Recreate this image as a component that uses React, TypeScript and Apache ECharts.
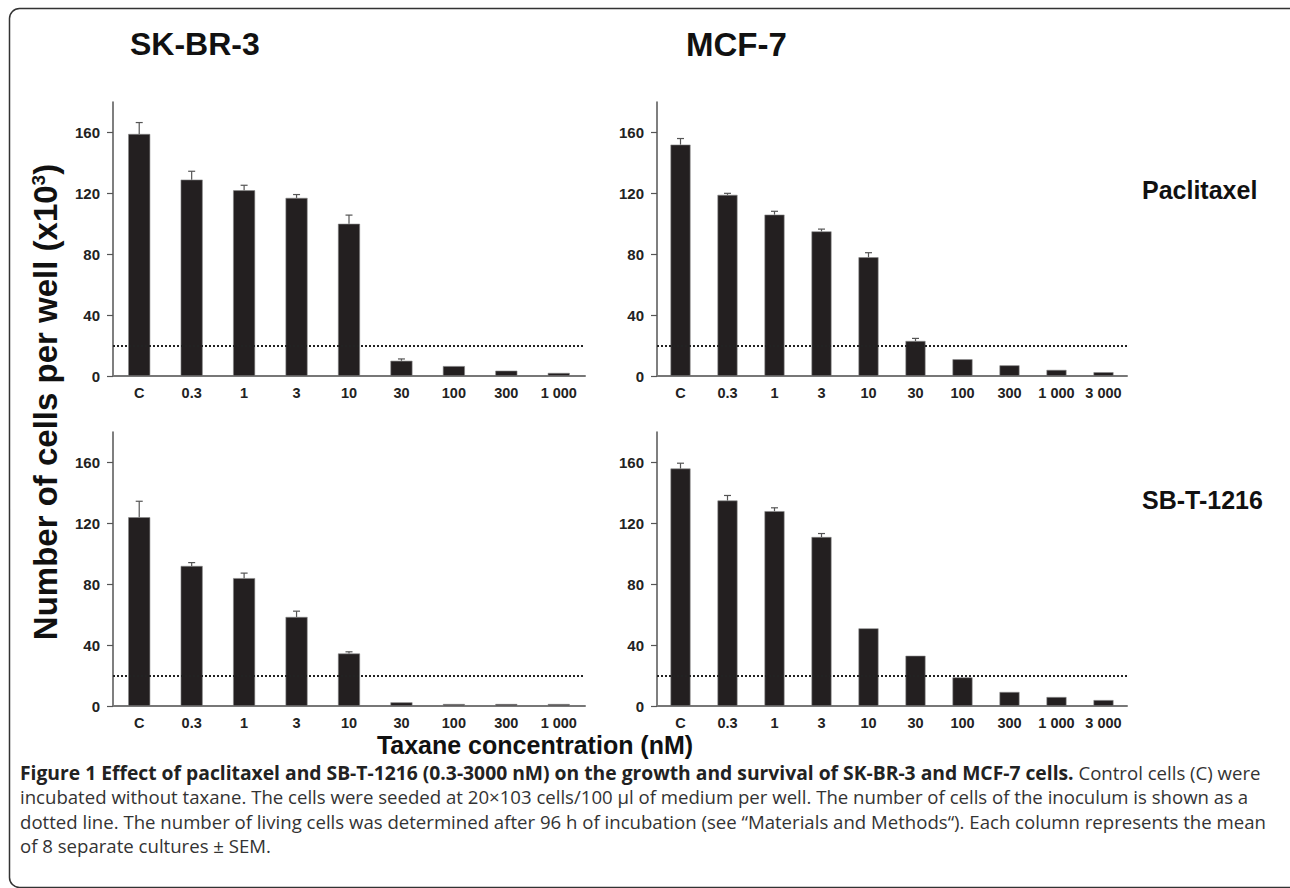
import React, { useEffect, useRef } from "react";
import * as echarts from "echarts";

const catsA = ["C", "0.3", "1", "3", "10", "30", "100", "300", "1 000"];
const catsB = ["C", "0.3", "1", "3", "10", "30", "100", "300", "1 000", "3 000"];
const yTicks = [0, 40, 80, 120, 160];
const inoculum = 20;

const skbrPacli = [159, 129, 122, 117, 100, 10, 6.5, 3.5, 2];
const skbrPacliErr = [7.5, 5.5, 3.3, 2.2, 5.7, 1.2, 0.5, 0.5, 0.3];
const mcfPacli = [152, 119, 106, 95, 78, 23, 11, 7, 4, 2.5];
const mcfPacliErr = [4, 1, 2.2, 1.5, 3, 1.7, 0.4, 0.4, 0.3, 0.3];
const skbrSbt = [124, 92, 84, 58.5, 34.5, 2.4, 1.3, 1.3, 1.3];
const skbrSbtErr = [10.5, 2.2, 3.3, 3.8, 1.1, 0.2, 0.2, 0.2, 0.2];
const mcfSbt = [156, 135, 128, 111, 51, 33, 18.8, 9.2, 5.9, 3.9];
const mcfSbtErr = [3.5, 3.3, 2.2, 2.3, 0, 0.5, 0.3, 0.2, 0.2, 0.1];

const captionLines = [
  ["Figure 1 Effect of paclitaxel and SB-T-1216 (0.3-3000 nM) on the growth and survival of SK-BR-3 and MCF-7 cells.", " Control cells (C) were"],
  ["", "incubated without taxane. The cells were seeded at 20×103 cells/100 µl of medium per well. The number of cells of the inoculum is shown as a"],
  ["", "dotted line. The number of living cells was determined after 96 h of incubation (see “Materials and Methods“). Each column represents the mean"],
  ["", "of 8 separate cultures ± SEM."],
];

const FONT = "'Liberation Sans', Arial, Helvetica, sans-serif";
const CAPFONT = "'Open Sans', 'Noto Sans', sans-serif";
const BAR = "#231f20";

const grids = [
  { left: 113, top: 102, width: 472, height: 274 },
  { left: 657, top: 102, width: 470, height: 274 },
  { left: 113, top: 432, width: 472, height: 274 },
  { left: 657, top: 432, width: 470, height: 274 },
];

const panels = [
  { cats: catsA, vals: skbrPacli, errs: skbrPacliErr, bw: 22 },
  { cats: catsB, vals: mcfPacli, errs: mcfPacliErr, bw: 20 },
  { cats: catsA, vals: skbrSbt, errs: skbrSbtErr, bw: 22 },
  { cats: catsB, vals: mcfSbt, errs: mcfSbtErr, bw: 20 },
];

export default function App() {
  const ref = useRef<HTMLDivElement>(null);
  useEffect(() => {
    if (!ref.current) return;
    const chart = echarts.init(ref.current, undefined, { renderer: "svg" });
    const xAxis = panels.map((p, i) => ({
      type: "category",
      gridIndex: i,
      data: p.cats,
      boundaryGap: true,
      axisLine: { lineStyle: { color: "#777", width: 2 } },
      axisTick: { show: false },
      axisLabel: { color: "#222", fontWeight: "bold", fontSize: 14.5, fontFamily: FONT, margin: 9, interval: 0 },
      splitLine: { show: false },
    }));
    const yAxis = panels.map((p, i) => ({
      type: "value",
      gridIndex: i,
      min: 0,
      max: 180,
      interval: 40,
      axisLine: { show: true, lineStyle: { color: "#555", width: 1.5 } },
      axisTick: { show: true, length: 6, lineStyle: { color: "#555", width: 1.2 }, customValues: yTicks },
      axisLabel: { color: "#222", fontWeight: "bold", fontSize: 15, fontFamily: FONT, margin: 13, customValues: yTicks },
      splitLine: { show: false },
    }));
    const series: any[] = [];
    panels.forEach((p, i) => {
      series.push({
        type: "bar",
        xAxisIndex: i,
        yAxisIndex: i,
        data: p.vals,
        barWidth: p.bw,
        itemStyle: { color: BAR, borderColor: "#888", borderWidth: 0.6 },
        silent: true,
        markLine: {
          silent: true,
          symbol: "none",
          label: { show: false },
          lineStyle: { type: [2, 2], color: "#222", width: 2 },
          data: [{ yAxis: inoculum }],
        },
      });
      series.push({
        type: "custom",
        xAxisIndex: i,
        yAxisIndex: i,
        silent: true,
        z: 3,
        data: p.vals.map((v, k) => [k, v, v + p.errs[k]]),
        renderItem: (params: any, api: any) => {
          const k = api.value(0);
          const lo = api.coord([k, api.value(1)]);
          const hi = api.coord([k, api.value(2)]);
          if (lo[1] - hi[1] < 0.8) return { type: "group", children: [] };
          const st = { stroke: "#555", lineWidth: 1.2 };
          return {
            type: "group",
            children: [
              { type: "line", shape: { x1: lo[0], y1: lo[1], x2: hi[0], y2: hi[1] }, style: st },
              { type: "line", shape: { x1: hi[0] - 3.5, y1: hi[1], x2: hi[0] + 3.5, y2: hi[1] }, style: st },
            ],
          };
        },
      });
    });

    const graphic: any[] = [
      {
        type: "rect",
        shape: { x: 9.5, y: 8.5, width: 1290, height: 879, r: 10 },
        style: { fill: "none", stroke: "#333", lineWidth: 1.5 },
        silent: true,
      },
      { type: "text", x: 130, y: 44, style: { text: "SK-BR-3", fill: "#111", font: `bold 32px ${FONT}`, align: "left", verticalAlign: "middle" } },
      { type: "text", x: 686, y: 44, style: { text: "MCF-7", fill: "#111", font: `bold 33px ${FONT}`, align: "left", verticalAlign: "middle" } },
      { type: "text", x: 1142, y: 190, style: { text: "Paclitaxel", fill: "#111", font: `bold 25px ${FONT}`, align: "left", verticalAlign: "middle" } },
      { type: "text", x: 1142, y: 500, style: { text: "SB-T-1216", fill: "#111", font: `bold 25px ${FONT}`, align: "left", verticalAlign: "middle" } },
      {
        type: "text",
        x: 45,
        y: 402,
        rotation: Math.PI / 2,
        style: {
          text: "{a|Number of cells per well (x10}{s|3}{a|)}",
          align: "center",
          verticalAlign: "middle",
          rich: {
            a: { font: `bold 33px ${FONT}`, fill: "#111" },
            s: { font: `bold 19px ${FONT}`, fill: "#111", verticalAlign: "top", padding: [0, 0, 12, 0] },
          },
        },
      },
      { type: "text", x: 535, y: 745, style: { text: "Taxane concentration (nM)", fill: "#111", font: `bold 25px ${FONT}`, align: "center", verticalAlign: "middle" } },
    ];
    captionLines.forEach((ln, i) => {
      const txt = (ln[0] ? `{b|${ln[0]}}` : "") + `{n|${ln[1]}}`;
      graphic.push({
        type: "text",
        x: 20,
        y: 772 + i * 24.6,
        style: {
          text: txt,
          align: "left",
          verticalAlign: "middle",
          rich: {
            b: { font: `bold 19.3px ${CAPFONT}`, fill: "#222" },
            n: { font: `18.6px ${CAPFONT}`, fill: "#333" },
          },
        },
      });
    });

    chart.setOption({
      animation: false,
      backgroundColor: "#fff",
      grid: grids,
      xAxis,
      yAxis,
      series,
      graphic,
    });
    return () => chart.dispose();
  }, []);
  return <div ref={ref} style={{ position: "absolute", left: 0, top: 0, width: 1290, height: 888 }} />;
}
